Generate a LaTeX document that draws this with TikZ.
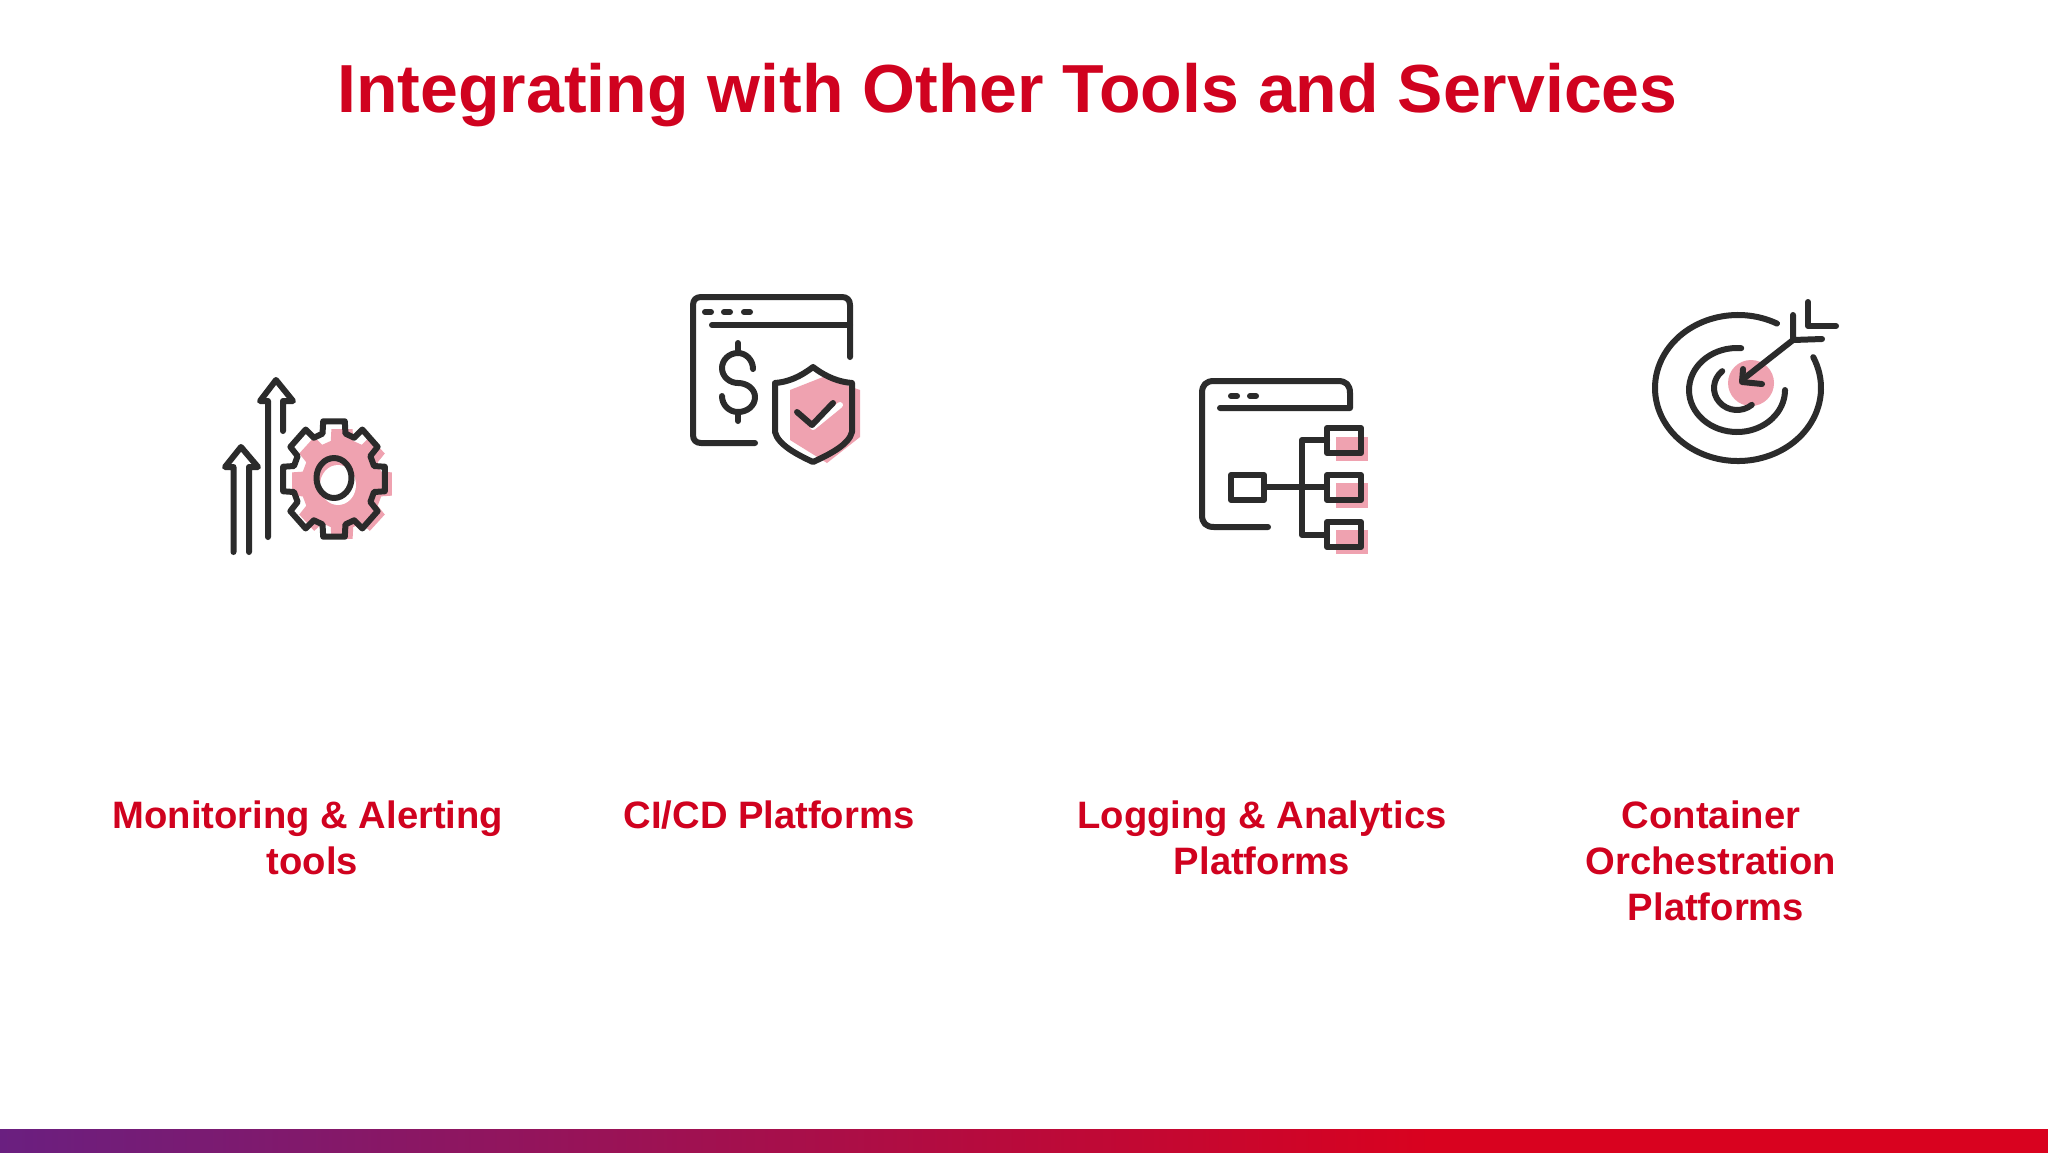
\documentclass[tikz,border=0pt]{standalone}
\usepackage{fontspec}
\setmainfont{Liberation Sans}
\usepackage{tikz}
\usetikzlibrary{positioning}
\definecolor{titlered}{HTML}{D0021F}
\definecolor{iconink}{HTML}{2B2B2B}
\definecolor{iconpink}{HTML}{EFA2B0}
\definecolor{barpurple}{HTML}{6A1F80}
\definecolor{barred}{HTML}{D9021F}
\tikzset{
  iconline/.style={draw=iconink,line width=3pt,line cap=round,line join=round},
  iconpatch/.style={fill=iconpink,draw=none},
  sectionlabel/.style={text=titlered,font=\fontsize{19.1}{23}\selectfont\bfseries,align=center,inner sep=0pt,anchor=north}
}
% ring with a gap, angles as seen on the page
\newcommand{\ringarc}[6]{\draw[iconline] ([shift={(#1,#2)}]-#5:#3 and #4) arc[start angle=#5,end angle=#6,x radius=#3*0.5pt,y radius=#4*0.5pt];}
\newcommand{\gearshape}[5]{\path[#1] ([shift={(#2,#3)}]-16:#4*0.8 and #5*0.8)
  \foreach \a in {0,45,...,315} {
    -- ([shift={(#2,#3)}]\a-16:#4*0.8 and #5*0.8)
    -- ([shift={(#2,#3)}]\a-12:#4 and #5)
    -- ([shift={(#2,#3)}]\a+12:#4 and #5)
    -- ([shift={(#2,#3)}]\a+16:#4*0.8 and #5*0.8)
  } -- cycle;}
\begin{document}
\begin{tikzpicture}[x=0.5pt,y=-0.5pt]
        \useasboundingbox (0,0) rectangle (2048,1152);
        \fill[white] (0,0) rectangle (2048,1152);

        \node[text=titlered,font=\fontsize{34}{40}\selectfont\bfseries,inner sep=0pt] (title) at (1007.5,95) {Integrating with Other Tools and Services};

        % bottom bar
        \fill[left color=barpurple,right color=barred] (0,1129) rectangle (1431,1160);
        \fill[barred] (1430,1129) rectangle (2048,1160);

        % arrows and gear
        \draw[iconline] (233.5,552) -- (233.5,467) -- (225,467) -- (241,447) -- (258,467) -- (249,467) -- (249,552);
        \draw[iconline] (268,537) -- (268,401) -- (260,401) -- (276,380) -- (293,401) -- (283,401) -- (283,431);
        \gearshape{iconpatch}{342}{484}{51}{56}
        \fill[white] (338,485) ellipse (9pt and 10pt);
        \gearshape{iconline}{334}{479}{52}{59}
        \draw[iconline] (334,478) ellipse (8.75pt and 10pt);

        % window with dollar and shield
        \draw[iconline] (755,443) -- (701,443) .. controls (696,443) and (693,440) .. (693,435) -- (693,305) .. controls (693,300) and (696,297) .. (701,297) -- (842,297) .. controls (847,297) and (850,300) .. (850,305) -- (850,357);
        \draw[iconline] (712,325) -- (850,325);
        \foreach \x in {705,724,744} \draw[iconline] (\x,312) -- (\x+6,312);
        \draw[iconline] (753,369) .. controls (753,360) and (746,353) .. (738,353) .. controls (729,353) and (722,360) .. (722,368) .. controls (722,377) and (730,383) .. (738,383) .. controls (747,383) and (755,389) .. (755,397) .. controls (755,406) and (747,412) .. (738,412) .. controls (729,412) and (722,405) .. (722,396);
        \draw[iconline] (738,343) -- (738,353);
        \draw[iconline] (738,412) -- (738,421);
        \path[iconpatch] (790,390) -- (823,377) -- (860,390) -- (860,437) -- (827,463) -- (790,440) -- cycle;
        \draw[white,line width=3pt,line cap=round] (813,427) -- (840,405);
        \draw[iconline] (813,367) .. controls (800,377) and (788,382) .. (775,383) -- (775,432) .. controls (778,445) and (798,455) .. (813,462) .. controls (828,455) and (849,445) .. (852,432) -- (852,383) .. controls (839,382) and (826,377) .. (813,367) -- cycle;
        \draw[iconline] (797,412) -- (812,425) -- (833,403);

        % window with tree
        \draw[iconline] (1268,527) -- (1214,527) .. controls (1206,527) and (1202,523) .. (1202,515) -- (1202,393) .. controls (1202,385) and (1206,381) .. (1214,381) -- (1338,381) .. controls (1346,381) and (1350,385) .. (1350,393) -- (1350,408) -- (1220,408);
        \foreach \x in {1231,1250} \draw[iconline] (\x,396) -- (\x+6,396);
        \path[iconpatch] (1336,437) rectangle (1368,461);
        \path[iconpatch] (1336,483) rectangle (1368,508);
        \path[iconpatch] (1336,530) rectangle (1368,554);
        \draw[iconline] (1231,475) rectangle (1264,500);
        \draw[iconline] (1327,428) rectangle (1361,453);
        \draw[iconline] (1327,475) rectangle (1361,500);
        \draw[iconline] (1327,522) rectangle (1361,547);
        \draw[iconline] (1264,487) -- (1327,487);
        \draw[iconline] (1327,440) -- (1302,440) -- (1302,535) -- (1327,535);

        % target
        \fill[iconpink] (1751,383) circle (11.5pt);
        \ringarc{1738}{388}{83}{73}{62}{385}
        \ringarc{1737}{390}{48}{42}{85}{360}
        \ringarc{1737}{388}{23}{22}{130}{310}
        \draw[iconline] (1793,340) -- (1742,380);
        \draw[iconline] (1743,369) -- (1742,382) -- (1762,384);
        \draw[iconline] (1793,315) -- (1793,340) -- (1822,339);
        \draw[iconline] (1808,302) -- (1808,326) -- (1836,326);

        \node[sectionlabel] (monitoring) at (308,800) {Monitoring \& Alerting\\\hspace*{4.5pt}tools};
        \node[sectionlabel] (cicd) at (769,800) {CI/CD Platforms};
        \node[sectionlabel] (logging) at (1262,800) {Logging \& Analytics\\Platforms};
        \node[sectionlabel] (container) at (1711,800) {Container\\Orchestration\\\hspace*{5pt}Platforms};
\end{tikzpicture}
\end{document}
